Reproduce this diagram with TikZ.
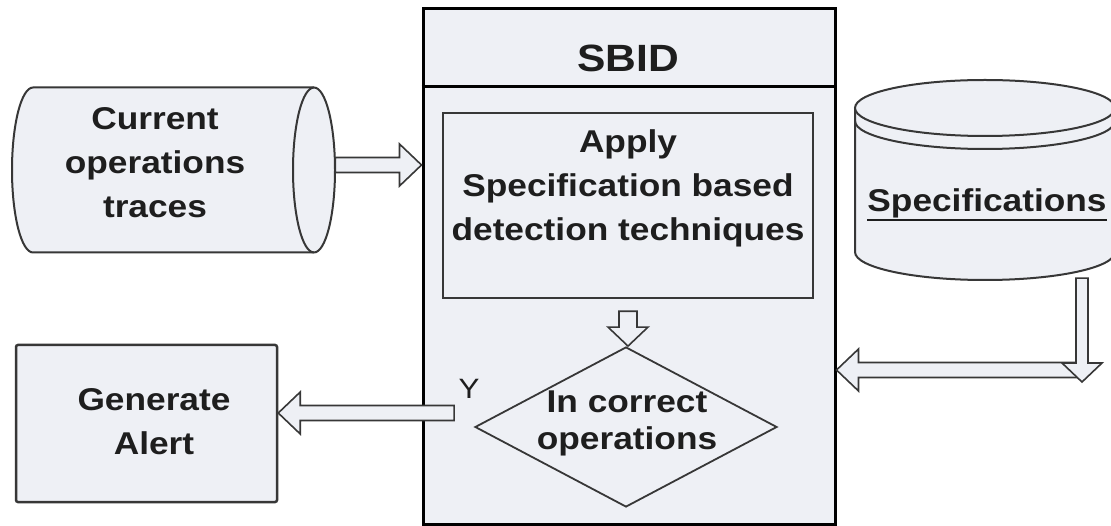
\documentclass[tikz,border=0pt]{standalone}
\usepackage{fontspec}
\newfontfamily\lab{Liberation Sans}[FakeStretch=1.12]
\usetikzlibrary{shapes.geometric,calc}
\definecolor{boxfill}{RGB}{238,240,245}
\definecolor{edge}{RGB}{55,55,55}
\definecolor{ink}{RGB}{30,30,30}

\tikzset{
  txt/.style={font=\lab\bfseries\fontsize{31.5}{44}\selectfont, align=center, inner sep=0pt, text=ink},
  fat/.style={draw=edge, fill=boxfill, line width=1.6pt, line join=miter},
  cyl/.style={draw=edge, fill=boxfill, line width=2pt},
  box/.style={draw=edge, fill=boxfill, line width=2.5pt, inner sep=0pt},
}

% hollow block arrow, horizontal: from the first point to the x of the second
\newcommand\fatH[3][7.5pt]{%
  \draw[fat] let \p1=(#2), \p2=(#3), \n1={ifthenelse(\x2>\x1,1,-1)} in
    ({\x1},{\y1+#1}) -- ({\x2-\n1*22pt},{\y1+#1}) -- ({\x2-\n1*22pt},{\y1+21pt}) -- ({\x2},{\y1})
    -- ({\x2-\n1*22pt},{\y1-21pt}) -- ({\x2-\n1*22pt},{\y1-#1}) -- ({\x1},{\y1-#1}) -- cycle;}
% hollow block arrow, vertical: from the first point to the y of the second
\newcommand\fatV[3][7.5pt]{%
  \draw[fat] let \p1=(#2), \p2=(#3), \n1={ifthenelse(\y2>\y1,1,-1)} in
    ({\x1+#1},{\y1}) -- ({\x1+#1},{\y2-\n1*19pt}) -- ({\x1+20pt},{\y2-\n1*19pt}) -- ({\x1},{\y2})
    -- ({\x1-20pt},{\y2-\n1*19pt}) -- ({\x1-#1},{\y2-\n1*19pt}) -- ({\x1-#1},{\y1}) -- cycle;}

\begin{document}
\begin{tikzpicture}[x=1pt,y=-1pt]
\useasboundingbox (0,0) rectangle (1111,526);
\fill[white] (0,0) rectangle (1111,526);

% SBID container with its header
\node[box, draw=black, line width=3pt, minimum width=412pt, minimum height=515pt] (sbid) at (629,266.5) {};
\coordinate (hd) at (0,87);
\draw[black, line width=3pt] (sbid.west |- hd) -- (sbid.east |- hd);
\node[txt, font=\lab\bfseries\fontsize{38}{44}\selectfont] (title) at (628,58) {SBID};

% detection step
\node[box, minimum width=370pt, minimum height=185pt] (apply) at (628,205.5) {};
\node[txt] (applytxt) at (628,188) {Apply\\Specification based\\detection techniques};

% decision
\node[diamond, draw=edge, fill=boxfill, line width=1.8pt, minimum width=302pt, minimum height=160pt, inner sep=0pt] (dec) at (626,427) {};
\node[txt, font=\lab\bfseries\fontsize{31.5}{37}\selectfont] (dectxt) at (627,423) {In correct\\operations};
\node[font=\lab\fontsize{28}{30}\selectfont, inner sep=0pt, text=ink] (ylab) at (469,389) {Y};

% alert
\node[box, rounded corners=2pt, minimum width=261pt, minimum height=157pt] (gen) at (146.5,423.5) {};
\node[txt] (gentxt) at (154,422) {Generate\\Alert};

% trace store (horizontal cylinder)
\draw[cyl] (33,87.5) -- (314,87.5) arc[start angle=-90, end angle=90, x radius=21, y radius=82.5]
  -- (33,252.5) arc[start angle=90, end angle=270, x radius=21, y radius=82.5] -- cycle;
\draw[edge, line width=2pt] (314,87.5) arc[start angle=-90, end angle=-270, x radius=21, y radius=82.5];
\node[minimum width=323pt, minimum height=165pt, inner sep=0pt] (cur) at (173.5,170) {};
\node[txt] (curtxt) at (155,163) {Current\\operations\\traces};

% specification store (vertical cylinder)
\draw[cyl] (855,108) -- (855,252) arc[start angle=180, end angle=0, x radius=130, y radius=28]
  -- (1115,108) -- cycle;
\draw[cyl] (985,108) ellipse[x radius=130, y radius=28];
\draw[edge, line width=2pt] (855,121) arc[start angle=180, end angle=0, x radius=130, y radius=28];
\node[minimum width=260pt, minimum height=200pt, inner sep=0pt] (spec) at (985,180) {};
\node[txt] (spectxt) at (987,203) {Specifications};
\draw[ink, line width=2.2pt] ([yshift=-2pt]spectxt.south west) -- ([yshift=-2pt]spectxt.south east);
\coordinate (bend) at (1082,382);

% connectors
\fatH{[yshift=5pt]cur.east}{sbid.west}
\fatV[9pt]{[yshift=-12pt]apply.south}{dec.north}
\fatH{[xshift=-20pt,yshift=14pt]dec.west}{gen.east}
\fatH{[yshift=12pt]bend}{sbid.east}
\fatV[6pt]{[xshift=97pt,yshift=2pt]spec.south}{bend}
\end{tikzpicture}
\end{document}
